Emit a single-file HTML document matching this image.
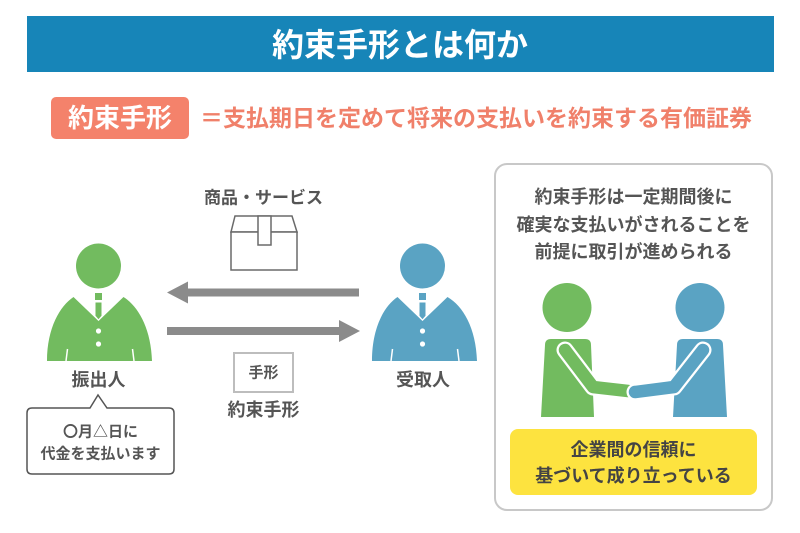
<!DOCTYPE html>
<html lang="ja">
<head>
<meta charset="utf-8">
<style>
  html, body { margin: 0; padding: 0; background: #fff; }
  body { width: 800px; height: 533px; overflow: hidden; }
  svg { display: block; }
  text { font-family: "Liberation Sans", "Noto Sans CJK JP", sans-serif; font-weight: bold; }
  text.cjk { font-family: "Noto Sans CJK JP", "Liberation Sans", sans-serif; }
</style>
</head>
<body>
<svg width="800" height="533" viewBox="0 0 800 533" xmlns="http://www.w3.org/2000/svg">
  <rect x="0" y="0" width="800" height="533" fill="#ffffff"/>

  <!-- Header bar -->
  <rect x="27" y="16" width="747" height="56" fill="#1785b8"/>
  <text x="400" y="45" font-size="32" fill="#ffffff" text-anchor="middle" dominant-baseline="central">約束手形とは何か</text>

  <!-- Subtitle -->
  <rect x="51" y="97" width="138" height="42" rx="5" ry="5" fill="#f4826b"/>
  <text x="120" y="118" font-size="26" fill="#ffffff" text-anchor="middle" dominant-baseline="central">約束手形</text>
  <text x="200" y="118" font-size="23" fill="#f0806a" text-anchor="start" dominant-baseline="central">＝支払期日を定めて将来の支払いを約束する有価証券</text>

  <!-- Green person (振出人) -->
  <g fill="#72bb5f">
    <circle cx="98.5" cy="266" r="22.5"/>
    <path d="M73.5,297 C60,306 47,328 47,361 L152,361 C151,328 138,306 123.5,297 L98.5,321 Z"/>
    <rect x="95" y="293" width="7" height="7"/>
    <polygon points="95,302 102,302 102,316 98.5,320 95,316" stroke="#ffffff" stroke-width="1"/>
  </g>
  <circle cx="98.5" cy="331" r="2.6" fill="#fff"/>
  <circle cx="98.5" cy="344" r="2.6" fill="#fff"/>
  <line x1="66" y1="361" x2="67.5" y2="349" stroke="#fff" stroke-width="1.5"/>
  <line x1="134" y1="361" x2="132.5" y2="349" stroke="#fff" stroke-width="1.5"/>
  <text x="98.5" y="380" font-size="18" fill="#555555" text-anchor="middle" dominant-baseline="central">振出人</text>

  <!-- Speech bubble -->
  <path d="M32,408 L90,408 L98,395 L107,408 L169,408 Q174,408 174,413 L174,469 Q174,474 169,474 L32,474 Q27,474 27,469 L27,413 Q27,408 32,408 Z" fill="#ffffff" stroke="#555555" stroke-width="1.5"/>
  <text class="cjk" x="100.5" y="431" font-size="15" fill="#555555" text-anchor="middle" dominant-baseline="central">〇月△日に</text>
  <text class="cjk" x="100.5" y="453" font-size="15" fill="#555555" text-anchor="middle" dominant-baseline="central">代金を支払います</text>

  <!-- Goods label & box -->
  <text x="263.5" y="198" font-size="17" fill="#555555" text-anchor="middle" dominant-baseline="central">商品・サービス</text>
  <g fill="#ffffff" stroke="#6a6a6a" stroke-width="1.5">
    <path d="M235,216 L292,216 L297,232 L231,232 Z"/>
    <rect x="231" y="232" width="66" height="38"/>
    <rect x="258" y="216" width="13" height="29"/>
  </g>

  <!-- Arrows -->
  <g fill="#8b8b8b">
    <rect x="186" y="288.5" width="173" height="8"/>
    <polygon points="167,292.5 188,281.5 188,303.5"/>
    <rect x="167" y="327" width="174" height="8"/>
    <polygon points="360,331 339,320 339,342"/>
  </g>

  <!-- Promissory note -->
  <rect x="234" y="353" width="59" height="39" fill="#ffffff" stroke="#bdbdbd" stroke-width="2"/>
  <text x="263.5" y="373" font-size="15" fill="#555555" text-anchor="middle" dominant-baseline="central">手形</text>
  <text x="263.5" y="410" font-size="18" fill="#555555" text-anchor="middle" dominant-baseline="central">約束手形</text>

  <!-- Blue person (受取人) -->
  <g fill="#5aa3c3">
    <circle cx="422.5" cy="266" r="22.5"/>
    <path d="M397.5,297 C384,306 372,328 372,361 L477,361 C476,328 463,306 447.5,297 L422.5,321 Z"/>
    <rect x="419" y="293" width="7" height="7"/>
    <polygon points="419,302 426,302 426,316 422.5,320 419,316" stroke="#ffffff" stroke-width="1"/>
  </g>
  <circle cx="422.5" cy="331" r="2.6" fill="#fff"/>
  <circle cx="422.5" cy="344" r="2.6" fill="#fff"/>
  <line x1="391" y1="361" x2="392.5" y2="349" stroke="#fff" stroke-width="1.5"/>
  <line x1="459" y1="361" x2="457.5" y2="349" stroke="#fff" stroke-width="1.5"/>
  <text x="423" y="380" font-size="18" fill="#555555" text-anchor="middle" dominant-baseline="central">受取人</text>

  <!-- Right panel -->
  <rect x="495" y="164" width="277" height="346" rx="12" ry="12" fill="#ffffff" stroke="#c8c8c8" stroke-width="2"/>
  <text x="633.5" y="197" font-size="18" fill="#555555" text-anchor="middle" dominant-baseline="central">約束手形は一定期間後に</text>
  <text x="633.5" y="225" font-size="18" fill="#555555" text-anchor="middle" dominant-baseline="central">確実な支払いがされることを</text>
  <text x="633.5" y="252" font-size="18" fill="#555555" text-anchor="middle" dominant-baseline="central">前提に取引が進められる</text>

  <!-- Handshake -->
  <circle cx="567" cy="307.5" r="24.5" fill="#72bb5f"/>
  <circle cx="700" cy="307.5" r="24.5" fill="#5aa3c3"/>
  <path d="M545,345 Q545,339 551,339 L585,339 Q591,339 591,345 L594,417 L541,417 Z" fill="#72bb5f"/>
  <path d="M677,345 Q677,339 683,339 L717,339 Q723,339 723,345 L727,417 L673,417 Z" fill="#5aa3c3"/>
  <polyline points="565,350 593,387 628,391" fill="none" stroke="#ffffff" stroke-width="17" stroke-linecap="round" stroke-linejoin="round"/>
  <polyline points="565,350 593,387 628,391" fill="none" stroke="#72bb5f" stroke-width="12.5" stroke-linecap="round" stroke-linejoin="round"/>
  <polyline points="703,350 674,387 635,392" fill="none" stroke="#ffffff" stroke-width="17" stroke-linecap="round" stroke-linejoin="round"/>
  <polyline points="703,350 674,387 635,392" fill="none" stroke="#5aa3c3" stroke-width="12.5" stroke-linecap="round" stroke-linejoin="round"/>

  <!-- Yellow box -->
  <rect x="510" y="429" width="247" height="66" rx="8" ry="8" fill="#fde33f"/>
  <text x="633.5" y="450" font-size="18" fill="#444444" text-anchor="middle" dominant-baseline="central">企業間の信頼に</text>
  <text x="633.5" y="476" font-size="18" fill="#444444" text-anchor="middle" dominant-baseline="central">基づいて成り立っている</text>
</svg>
</body>
</html>
